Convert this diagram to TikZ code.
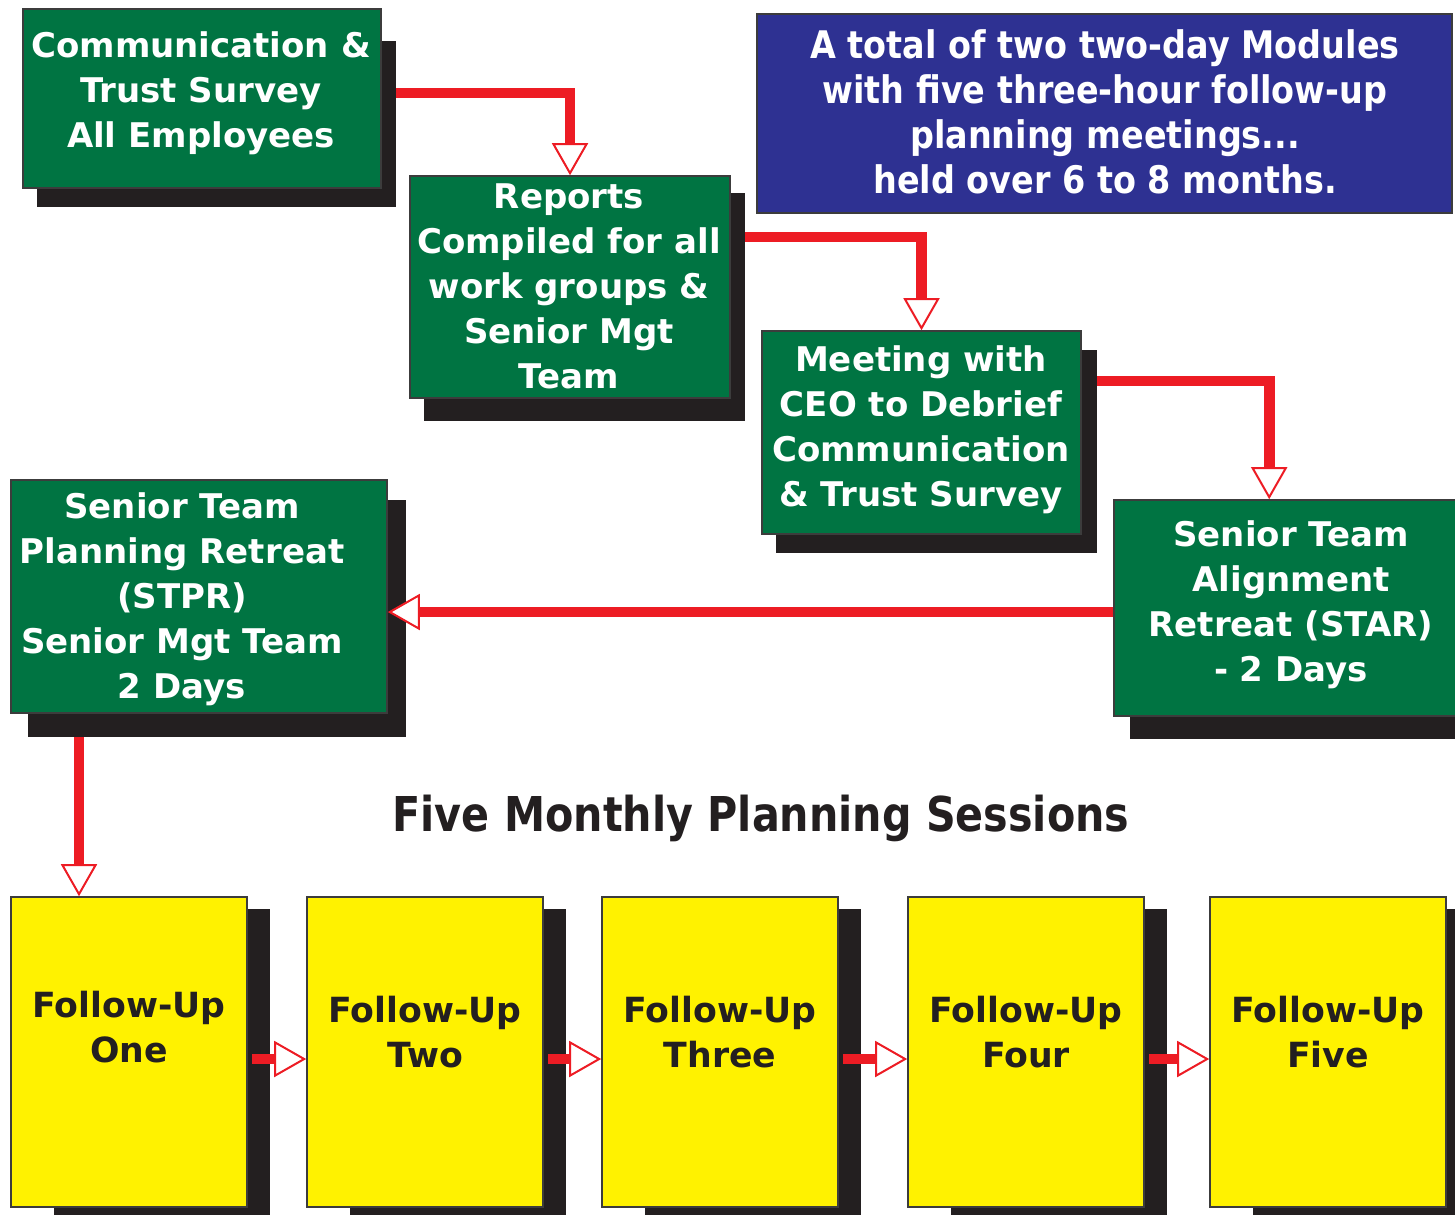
\documentclass[tikz,border=0pt]{standalone}
\usepackage{fontspec}
\setmainfont{DejaVu Sans}
\newfontfamily\narrowfont{DejaVu Sans}[FakeStretch=0.88]
\newfontfamily\titlefont{DejaVu Sans}[FakeStretch=0.86]
\usetikzlibrary{arrows.meta}

\definecolor{boxgreen}{RGB}{0,116,66}
\definecolor{boxblue}{RGB}{46,49,146}
\definecolor{boxyellow}{RGB}{255,242,0}
\definecolor{linkred}{RGB}{237,28,36}
\definecolor{shadowgray}{RGB}{35,31,32}
\definecolor{edgegray}{RGB}{60,60,60}

\tikzset{every picture/.style={line width=0.75pt}}

\begin{document}
\begin{tikzpicture}[x=0.75pt,y=0.75pt,yscale=-1,xscale=1,
	box/.style={draw=edgegray, line width=1.2pt, inner sep=0pt},
	greenbox/.style={box, fill=boxgreen},
	yellowbox/.style={box, fill=boxyellow, minimum width=177pt, minimum height=232.5pt},
	whitetext/.style={text=white, align=center, font=\bfseries\fontsize{25.5}{33.75}\selectfont},
	bluetext/.style={text=white, align=center, font=\narrowfont\bfseries\fontsize{28.5}{33.75}\selectfont},
	darktext/.style={text=shadowgray, align=center, font=\bfseries\fontsize{26}{33.75}\selectfont},
	shade/.style={fill=shadowgray},
	conn/.style={draw=linkred, line width=8pt, -{Triangle[fill=white, line width=1.5pt, length=24pt, width=27pt]}}
	]
	\useasboundingbox (0,0) rectangle (1455,1214);
	\clip (0,0) rectangle (1455,1214);

	%Shadows
	\fill [shade] (37,41) rectangle (396,207);
	\fill [shade] (424,193) rectangle (745,421);
	\fill [shade] (776,350) rectangle (1097,553);
	\fill [shade] (1130,520) rectangle (1480,739);
	\fill [shade] (28,500) rectangle (406,737);
	\foreach \l in {11,307,602,908,1210}
		\fill [shade] (\l+43,909) rectangle (\l+259,1230);

	%Boxes
	\node [greenbox, minimum width=268.5pt, minimum height=134.25pt] (comm) at (202,98.5) {};
	\node [greenbox, minimum width=240pt, minimum height=166.5pt] (reports) at (570,287) {};
	\node [box, fill=boxblue, minimum width=521.25pt, minimum height=149.25pt] (modules) at (1104.5,113.5) {};
	\node [greenbox, minimum width=239.25pt, minimum height=152.25pt] (meet) at (921.5,432.5) {};
	\node [greenbox, minimum width=267pt, minimum height=162pt] (star) at (1292,608) {};
	\node [greenbox, minimum width=282pt, minimum height=174.75pt] (stpr) at (199,596.5) {};
	\node [yellowbox] (fu1) at (129,1052) {};
	\node [yellowbox] (fu2) at (425,1052) {};
	\node [yellowbox] (fu3) at (720,1052) {};
	\node [yellowbox] (fu4) at (1026,1052) {};
	\node [yellowbox] (fu5) at (1328,1052) {};

	% Text Node
	\node [whitetext] (commtext) at (201,93) {Communication \&\\Trust Survey\\All Employees};
	% Text Node
	\node [whitetext] (reportstext) at (569,286) {Reports\\Compiled for all\\work groups \&\\Senior Mgt\\Team};
	% Text Node
	\node [bluetext] (modulestext) at (1105,112) {A total of two two-day Modules\\with five three-hour follow-up\\planning meetings...\\held over 6 to 8 months.};
	% Text Node
	\node [whitetext] (meettext) at (921,430) {Meeting with\\CEO to Debrief\\Communication\\\& Trust Survey};
	% Text Node
	\node [whitetext] (startext) at (1291,605) {Senior Team\\Alignment\\Retreat (STAR)\\- 2 Days};
	% Text Node
	\node [whitetext] (stprtext) at (182,599) {Senior Team\\Planning Retreat\\(STPR)\\Senior Mgt Team\\2 Days};
	% Text Node
	\node [text=shadowgray, font=\titlefont\bfseries\fontsize{36}{40}\selectfont] (title) at (761,818) {Five Monthly Planning Sessions};
	% Text Node
	\node [darktext] (fu1text) at (129,1027) {Follow-Up\\One};
	\node [darktext] (fu2text) at (425,1032) {Follow-Up\\Two};
	\node [darktext] (fu3text) at (720,1032) {Follow-Up\\Three};
	\node [darktext] (fu4text) at (1026,1032) {Follow-Up\\Four};
	\node [darktext] (fu5text) at (1328,1032) {Follow-Up\\Five};

	%Connectors
	\coordinate (out1) at (396,93);
	\coordinate (out2) at (745,237);
	\coordinate (out3) at (1097,381);
	\coordinate (out5) at (79,737);
	\draw [conn] (out1) -| (reports.north);
	\draw [conn] (out2) -| (meet.north);
	\draw [conn] (out3) -| ([xshift=117pt]star.north west);
	\draw [conn] ([yshift=3pt]star.west) -- ([yshift=3pt]star.west -| stpr.east);
	\draw [conn] (out5) -- (out5 |- fu1.north);
	\foreach \a/\b in {fu1/fu2,fu2/fu3,fu3/fu4,fu4/fu5}
		\draw [conn] ([xshift=3pt,yshift=5.25pt]\a.east) -- ([yshift=5.25pt]\b.west);

\end{tikzpicture}
\end{document}
